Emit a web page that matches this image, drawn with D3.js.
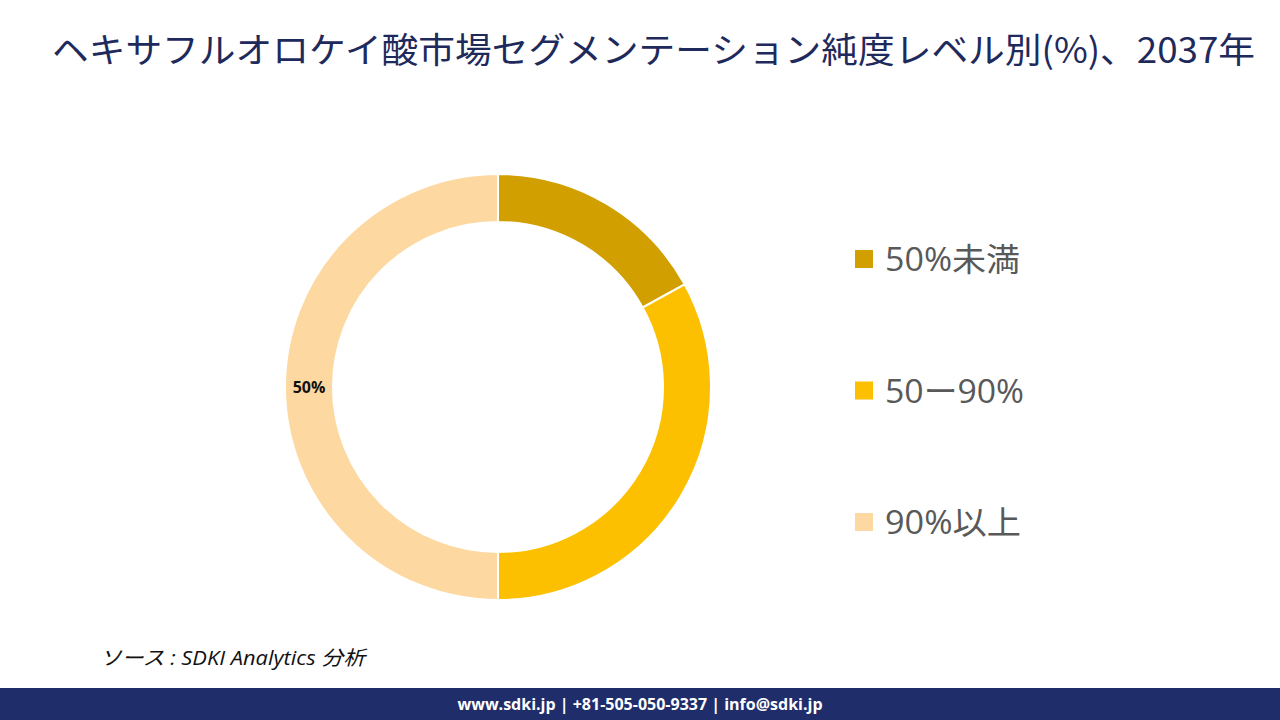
<!DOCTYPE html>
<html><head><meta charset="utf-8">
<script src="https://cdn.jsdelivr.net/npm/d3@7"></script>
<style>html,body{margin:0;padding:0;background:#fff;}svg{display:block;}</style>
</head><body>
<svg id="chart" width="1280" height="720"></svg>
<script>
const categories = ["50%未満", "50ー90%", "90%以上"];
const values = [17, 33, 50];
const colors = ["#D19F00", "#FCC000", "#FDD8A0"];
const labels = ["", "", "50%"];
const title = "ヘキサフルオロケイ酸市場セグメンテーション純度レベル別(%)、2037年";
const source = "ソース : SDKI Analytics  分析";
const footer = "www.sdki.jp | +81-505-050-9337 | info@sdki.jp";

const svg = d3.select("#chart");
svg.append("rect").attr("width",1280).attr("height",720).attr("fill","#fff");

svg.append("text").attr("x",52).attr("y",63)
  .attr("font-family","'Noto Sans CJK JP', sans-serif").attr("font-size",35)
  .attr("fill","#1F2A5C").attr("textLength",1203).attr("lengthAdjust","spacingAndGlyphs")
  .text(title);

const cx = 498, cy = 387, rOuter = 213, rInner = 165;
const pie = d3.pie().sort(null).value(d => d)(values);
const arc = d3.arc().innerRadius(rInner).outerRadius(rOuter);
const g = svg.append("g").attr("transform",`translate(${cx},${cy})`);
g.selectAll("path").data(pie).join("path")
  .attr("d",arc).attr("fill",(d,i)=>colors[i])
  .attr("stroke","#fff").attr("stroke-width",2);
const labelArc = d3.arc().innerRadius((rInner+rOuter)/2).outerRadius((rInner+rOuter)/2);
g.selectAll("text.lbl").data(pie).join("text").attr("class","lbl")
  .attr("x",d=>labelArc.centroid(d)[0])
  .attr("y",d=>labelArc.centroid(d)[1]+6)
  .attr("text-anchor","middle").attr("font-family","'Open Sans', sans-serif")
  .attr("font-weight","bold").attr("font-size",16).attr("fill","#111")
  .text((d,i)=>labels[i]);

const legendY = d3.scalePoint().domain(categories).range([259,522]);
const legendW = [135, 139, 136];
const lg = svg.append("g");
categories.forEach((c,i)=>{
  lg.append("rect").attr("x",855).attr("y",legendY(c)-9).attr("width",18).attr("height",18).attr("fill",colors[i]);
  lg.append("text").attr("x",885).attr("y",legendY(c)+12)
    .attr("font-family","'Open Sans','Noto Sans CJK JP', sans-serif").attr("font-size",32)
    .attr("textLength",legendW[i]).attr("lengthAdjust","spacingAndGlyphs")
    .attr("fill","#595959").text(c);
});

svg.append("text").attr("x",100).attr("y",665)
  .attr("font-family","'Open Sans','Noto Sans CJK JP', sans-serif").attr("font-size",20)
  .attr("textLength",265).attr("lengthAdjust","spacingAndGlyphs")
  .attr("font-style","italic").attr("fill","#111").text(source);

svg.append("rect").attr("x",0).attr("y",688).attr("width",1280).attr("height",32).attr("fill","#1F2D6B");
svg.append("text").attr("x",640).attr("y",710).attr("text-anchor","middle")
  .attr("font-family","'Open Sans', sans-serif").attr("font-weight","bold").attr("font-size",16)
  .attr("fill","#fff").text(footer);
</script>
</body></html>
